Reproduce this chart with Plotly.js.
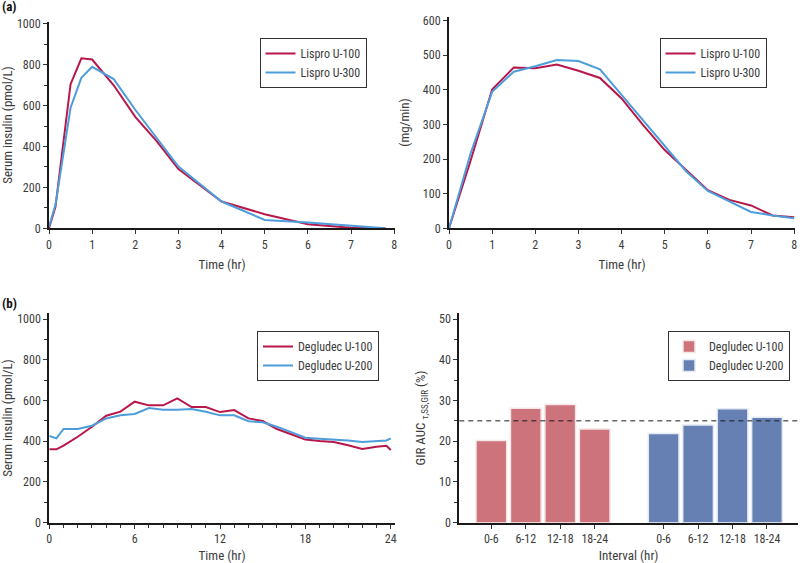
<!DOCTYPE html>
<html>
<head>
<meta charset="utf-8">
<script src="https://cdn.plot.ly/plotly-3.0.1.min.js"></script>
<style>
  html, body { margin: 0; padding: 0; background: #ffffff; }
  #chart { width: 800px; height: 563px; }
</style>
</head>
<body>
<div id="chart"></div>
<script>
// ---------- Data ----------
// (a) left: Serum insulin, lispro
const lisproTime = [0, 0.15, 0.5, 0.75, 1, 1.5, 2, 2.5, 3, 4, 5, 6, 7, 7.8];
const lisproU100 = [0, 105, 705, 832, 826, 700, 545, 425, 290, 131, 69, 20, 3, 0];
const lisproU300 = [8, 115, 590, 736, 790, 730, 580, 440, 302, 131, 41, 28, 12, 0];

// (a) right: glucose infusion rate (mg/min)
const girTime = [0, 0.5, 1, 1.5, 2, 2.5, 3, 3.5, 4, 4.5, 5, 5.5, 6, 6.5, 7, 7.5, 8];
const girU100 = [0, 195, 401, 464, 462, 473, 455, 434, 375, 298, 226, 168, 110, 82, 66, 37, 32];
const girU300 = [0, 216, 394, 452, 468, 486, 483, 459, 385, 312, 236, 164, 108, 77, 47, 37, 29];

// (b) left: Serum insulin, degludec
const degTime = [0, 0.5, 1, 2, 3, 4, 5, 6, 7, 8, 9, 10, 11, 12, 13, 14, 15, 16, 17, 18, 19, 20, 21, 22, 23, 23.7, 24];
const degU100 = [360, 360, 378, 422, 471, 525, 545, 594, 576, 576, 610, 568, 568, 543, 553, 512, 499, 460, 434, 408, 401, 396, 380, 362, 373, 378, 357];
const degU200 = [426, 414, 460, 460, 476, 512, 527, 534, 563, 555, 555, 558, 545, 527, 527, 498, 493, 471, 445, 417, 412, 409, 403, 396, 399, 404, 414];

// (b) right: GIR AUC by interval
const intervals = ['0-6', '6-12', '12-18', '18-24'];
const groupU100Pos = [0, 1, 2, 3];
const groupU200Pos = [5, 6, 7, 8];
const aucU100 = [20.2, 28.1, 29.0, 23.0];
const aucU200 = [21.9, 24.0, 28.0, 25.9];
const referenceLevel = [25];

// ---------- Styles ----------
const RED = '#b8174a';
const BLUE = '#4d9ddb';
const BAR_RED = '#cc737c';
const BAR_BLUE = '#6680b4';
const FONT = 'Liberation Sans Narrow, Arial Narrow, Roboto Condensed, DejaVu Sans Condensed, sans-serif';
const TXT = '#3c3c3c';

function px2x(p) { return p / 800; }
function px2y(p) { return 1 - p / 563; }

const axisBase = {
  showline: true, linecolor: '#1a1a1a', linewidth: 2,
  ticks: 'outside', ticklen: 4, tickwidth: 1, tickcolor: '#333',
  showgrid: false, zeroline: false,
  tickfont: { family: FONT, size: 12, color: TXT },
  title: { font: { family: FONT, size: 13, color: TXT } },
  automargin: false, fixedrange: true
};
function ax(extra) {
  const o = JSON.parse(JSON.stringify(axisBase));
  for (const k in extra) {
    if (k === 'title') { o.title = Object.assign(o.title, extra.title); }
    else o[k] = extra[k];
  }
  return o;
}

const lineW = 2;
const traces = [
  { x: lisproTime, y: lisproU100, type: 'scatter', mode: 'lines', name: 'Lispro U-100',
    line: { color: RED, width: lineW }, xaxis: 'x', yaxis: 'y', legend: 'legend' },
  { x: lisproTime, y: lisproU300, type: 'scatter', mode: 'lines', name: 'Lispro U-300',
    line: { color: BLUE, width: lineW }, xaxis: 'x', yaxis: 'y', legend: 'legend' },

  { x: girTime, y: girU100, type: 'scatter', mode: 'lines', name: 'Lispro U-100',
    line: { color: RED, width: lineW }, xaxis: 'x2', yaxis: 'y2', legend: 'legend2' },
  { x: girTime, y: girU300, type: 'scatter', mode: 'lines', name: 'Lispro U-300',
    line: { color: BLUE, width: lineW }, xaxis: 'x2', yaxis: 'y2', legend: 'legend2' },

  { x: degTime, y: degU100, type: 'scatter', mode: 'lines', name: 'Degludec U-100',
    line: { color: RED, width: lineW }, xaxis: 'x3', yaxis: 'y3', legend: 'legend3' },
  { x: degTime, y: degU200, type: 'scatter', mode: 'lines', name: 'Degludec U-200',
    line: { color: BLUE, width: lineW }, xaxis: 'x3', yaxis: 'y3', legend: 'legend3' },

  { x: groupU100Pos, y: aucU100, type: 'bar', name: 'Degludec U-100', width: 0.89,
    marker: { color: BAR_RED, line: { color: '#f6e6e8', width: 1.5 } },
    xaxis: 'x4', yaxis: 'y4', legend: 'legend4' },
  { x: groupU200Pos, y: aucU200, type: 'bar', name: 'Degludec U-200', width: 0.89,
    marker: { color: BAR_BLUE, line: { color: '#e4e9f3', width: 1.5 } },
    xaxis: 'x4', yaxis: 'y4', legend: 'legend4' }
];

const legendBase = {
  xanchor: 'center', yanchor: 'top', bgcolor: '#ffffff',
  bordercolor: '#333333', borderwidth: 1,
  font: { family: FONT, size: 12, color: TXT },
  tracegroupgap: 0, itemwidth: 30
};
function leg(x, y) { return Object.assign({}, legendBase, { x: px2x(x), y: px2y(y) }); }

const layout = {
  width: 800, height: 563,
  margin: { l: 0, r: 0, t: 0, b: 0 },
  paper_bgcolor: '#ffffff', plot_bgcolor: 'rgba(0,0,0,0)',
  font: { family: FONT, color: TXT },
  showlegend: true,
  bargap: 0,

  xaxis: ax({ domain: [px2x(49), px2x(395)], range: [0, 8.02], tickvals: [0,1,2,3,4,5,6,7,8],
    anchor: 'y', title: { text: 'Time (hr)', standoff: 9 } }),
  yaxis: ax({ domain: [px2y(228.3), px2y(21.7)], range: [0, 1011], dtick: 200, tick0: 0,
    minor: { dtick: 100, ticks: 'outside', ticklen: 3, tickcolor: '#333' },
    anchor: 'x', title: { text: 'Serum insulin (pmol/L)', standoff: 7 } }),

  xaxis2: ax({ domain: [px2x(449), px2x(795)], range: [0, 8.02], tickvals: [0,1,2,3,4,5,6,7,8],
    anchor: 'y2', title: { text: 'Time (hr)', standoff: 9 } }),
  yaxis2: ax({ domain: [px2y(228.3), px2y(16.7)], range: [0, 611], dtick: 100, tick0: 0,
    anchor: 'x2', title: { text: '(mg/min)', standoff: 10 } }),

  xaxis3: ax({ domain: [px2x(49.3), px2x(395)], range: [0, 24.3], tickvals: [0,6,12,18,24],
    minor: { dtick: 1, ticks: 'outside', ticklen: 3, tickcolor: '#333' },
    anchor: 'y3', title: { text: 'Time (hr)', standoff: 10 } }),
  yaxis3: ax({ domain: [px2y(522.7), px2y(313.3)], range: [0, 1028], dtick: 200, tick0: 0,
    minor: { dtick: 100, ticks: 'outside', ticklen: 3, tickcolor: '#333' },
    anchor: 'x3', title: { text: 'Serum insulin (pmol/L)', standoff: 7 } }),

  xaxis4: ax({ domain: [px2x(459.3), px2x(798)], range: [-0.93, 8.9],
    tickvals: groupU100Pos.concat(groupU200Pos), ticktext: intervals.concat(intervals),
    anchor: 'y4', title: { text: 'Interval (hr)', standoff: 10 } }),
  yaxis4: ax({ domain: [px2y(522.7), px2y(313.3)], range: [0, 51.4], dtick: 10, tick0: 0,
    minor: { dtick: 5, ticks: 'outside', ticklen: 3, tickcolor: '#333' },
    anchor: 'x4', title: { text: 'GIR AUC <sub>τ,SS,GIR</sub> (%)', standoff: 10 } }),

  legend: leg(313, 38),
  legend2: leg(713, 38),
  legend3: leg(318, 331),
  legend4: leg(729, 331),

  shapes: referenceLevel.map(v => ({
    type: 'line', xref: 'x4 domain', yref: 'y4', x0: 0, x1: 1, y0: v, y1: v,
    line: { color: '#1a1a1a', width: 1, dash: '5px,4px' }
  })),

  annotations: [
    { text: '<b>(a)</b>', xref: 'paper', yref: 'paper', x: 0, y: px2y(7), xanchor: 'left', yanchor: 'middle',
      showarrow: false, font: { family: FONT, size: 13, color: '#111' } },
    { text: '<b>(b)</b>', xref: 'paper', yref: 'paper', x: 0, y: px2y(303), xanchor: 'left', yanchor: 'middle',
      showarrow: false, font: { family: FONT, size: 13, color: '#111' } }
  ]
};

Plotly.newPlot('chart', traces, layout, { displayModeBar: false, staticPlot: true });
</script>
</body>
</html>
